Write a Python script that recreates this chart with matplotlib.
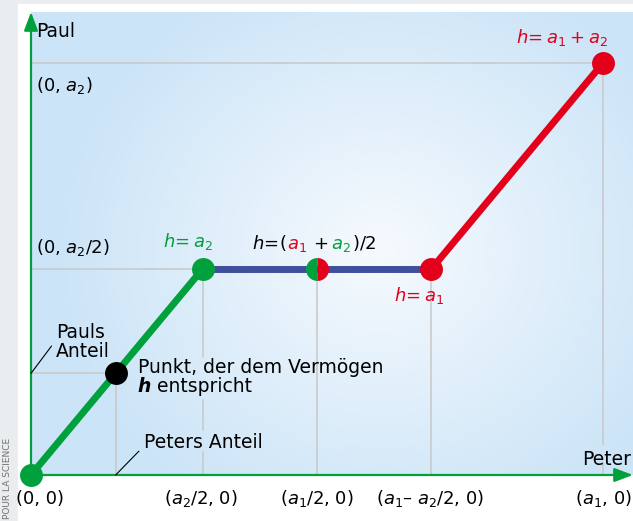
"""Division of an estate h between Peter (claim a1) and Paul (claim a2)."""
import numpy as np
import matplotlib.pyplot as plt
from matplotlib.patches import Rectangle

plt.rcParams['font.family'] = 'DejaVu Sans'
plt.rcParams['mathtext.fontset'] = 'dejavusans'

# claims of Peter (x axis) and Paul (y axis)
a1 = 5.0
a2 = 3.0
h_point = 1.48  # estate of the black example point (h < a2)

# breakpoints of the division path as h goes from 0 to a1 + a2
path_x = [0, a2 / 2, a1 / 2, a1 - a2 / 2, a1]
path_y = [0, a2 / 2, a2 / 2, a2 / 2, a2]

tick_x = [0, a2 / 2, a1 / 2, a1 - a2 / 2, a1]
tick_labels = ['(0, 0)', '($a_2$/2, 0)', '($a_1$/2, 0)',
               '($a_1$– $a_2$/2, 0)', '($a_1$, 0)']
tick_dx = [9, -2, 0, -1, 0]

GREEN = '#00a03c'
RED = '#e2001a'
BLUE = '#3f4f9b'
GRID = '#c8c8c8'
FS = 13.5   # plain text
FM = 13     # labels with formulas
W, H = 633, 521


def bg_color(px, py):
    """Radial blue-to-white background, in figure pixels."""
    edge = np.array([203, 228, 247]) / 255
    centre = np.array([246, 250, 254]) / 255
    d = np.clip(np.hypot((np.asarray(px) - 380) / 330,
                         (np.asarray(py) - 250) / 300), 0, 1)
    return centre + (edge - centre) * d[..., None]


fig = plt.figure(figsize=(W / 100, H / 100), dpi=100, facecolor='#e9edf0')
fig.add_artist(Rectangle((18 / W, 0), 1, (H - 4) / H, transform=fig.transFigure,
                         color='white', zorder=0))

x0, y0, x1, y1 = 31, 12, 633, 475
ax = fig.add_axes([x0 / W, (H - y1) / H, (x1 - x0) / W, (y1 - y0) / H])
ax.set_axis_off()

gx, gy = np.meshgrid(np.arange(x0, x1), np.arange(y0, y1))
ax.imshow(bg_color(gx, gy), extent=[0, 1, 0, 1], transform=ax.transAxes,
          aspect='auto', zorder=0)

sx = (603 - x0) / a1
sy = (y1 - 63) / a2
ax.set_xlim(0, (x1 - x0) / sx)
ax.set_ylim(0, (y1 - y0) / sy)


def py2y(py):
    return (y1 - py) / sy


def vline(x, top, gaps=()):
    """Vertical helper line from 0 up to top, left open behind text (gaps in px)."""
    ys = [top]
    for g_top, g_bot in gaps:
        ys += [py2y(g_top), np.nan, py2y(g_bot)]
    ys.append(0)
    ax.plot([x] * len(ys), ys, color=GRID, lw=1.1, zorder=1)


# helper lines
grid = dict(color=GRID, lw=1.1, zorder=1)
ax.plot([0, a1], [a2, a2], **grid)
vline(a1, a2, [(444, 463)])
ax.plot([0, a2 / 2], [a2 / 2, a2 / 2], **grid)
vline(tick_x[1], a2 / 2, [(357, 400), (430, 452)])
vline(tick_x[2], a2 / 2)
vline(tick_x[3], a2 / 2)
hp = h_point / 2
ax.plot([0, hp], [hp, hp], **grid)
vline(hp, hp)

# axes with arrows
arrow = dict(arrowstyle='-|>,head_length=0.8,head_width=0.3', color=GREEN,
             lw=1.6, shrinkA=0, shrinkB=0, mutation_scale=14)
ax.annotate('', xy=(0, 1), xycoords=('data', 'axes fraction'), xytext=(0, 0),
            arrowprops=arrow, annotation_clip=False, zorder=2)
ax.annotate('', xy=(1, 0), xycoords=('axes fraction', 'data'), xytext=(0, 0),
            arrowprops=arrow, annotation_clip=False, zorder=2)

# division path
lw = 5
ax.plot(path_x[:2], path_y[:2], color=GREEN, lw=lw, solid_capstyle='butt', zorder=3)
ax.plot(path_x[1:4], path_y[1:4], color=BLUE, lw=lw, solid_capstyle='butt', zorder=3)
ax.plot(path_x[3:], path_y[3:], color=RED, lw=lw, solid_capstyle='butt', zorder=3)

ms = 16.5
mk = dict(marker='o', ms=ms, mew=0, clip_on=False, zorder=4, ls='none')
ax.plot(path_x[:2], path_y[:2], color=GREEN, **mk)
ax.plot(path_x[3:], path_y[3:], color=RED, **mk)
ax.plot(path_x[2], path_y[2], fillstyle='left', markerfacecolor=GREEN,
        markerfacecoloralt=RED, **mk)
ax.plot(hp, hp, color='black', **mk)


def multicolor(xy, offset, parts, ha='center', size=FS):
    texts = [ax.annotate(s, xy=xy, xytext=offset, textcoords='offset pixels',
                         color=c, fontsize=size, ha='left', va='baseline',
                         zorder=5, **kw)
             for s, c, kw in parts]
    r = fig.canvas.get_renderer()
    widths = [t.get_window_extent(r).width for t in texts]
    pos = -sum(widths) / 2 if ha == 'center' else 0
    for t, w in zip(texts, widths):
        t.xyann = (offset[0] + pos, offset[1])
        pos += w
    return texts


# labels of the path points
ax.annotate(r'$h\!= a_2$', xy=(path_x[1], path_y[1]), xytext=(-14, 27),
            textcoords='offset pixels', color=GREEN, fontsize=FM,
            ha='center', va='center')
multicolor((path_x[2], path_y[2]), (-3, 20),
           [(r'$h\!=\!($', 'black', {}), ('$a_1$', RED, {}),
            (r'$\,+$', 'black', {}), (r'$\,a_2$', GREEN, {}),
            ('$)/2$', 'black', {})], size=FM)
ax.annotate(r'$h\!= a_1$', xy=(path_x[3], path_y[3]), xytext=(-12, -26),
            textcoords='offset pixels', color=RED, fontsize=FM,
            ha='center', va='center')
ax.annotate(r'$h\!= a_1 + a_2$', xy=(path_x[4], path_y[4]), xytext=(-41, 25),
            textcoords='offset pixels', color=RED, fontsize=FM,
            ha='center', va='center')

# example point and its shares
ax.annotate('Punkt, der dem Vermögen', xy=(hp, hp), xytext=(22, 0),
            textcoords='offset pixels', fontsize=FS, ha='left', va='baseline',
            zorder=5)
multicolor((hp, hp), (22, -19),
           [('h', 'black', dict(fontweight='bold', style='italic')),
            (' entspricht', 'black', {})], ha='left')
leader = dict(arrowstyle='-', color='black', lw=0.8, shrinkA=2, shrinkB=0)
ax.annotate('Pauls\nAnteil', xy=(0, hp), xytext=(25, 16),
            textcoords='offset pixels', fontsize=FS, ha='left', va='baseline',
            linespacing=1.05, annotation_clip=False,
            arrowprops=dict(relpos=(0, 0.55), **leader))
ax.annotate('Peters Anteil', xy=(hp, 0), xytext=(28, 27),
            textcoords='offset pixels', fontsize=FS, ha='left', va='baseline',
            zorder=5, arrowprops=dict(relpos=(0, 0.3), **leader))

# axis names and coordinates
fig.text(36 / W, 1 - 37 / H, 'Paul', fontsize=FS, ha='left', va='baseline')
fig.text(631 / W, 1 - 465 / H, 'Peter', fontsize=FS, ha='right',
         va='baseline', zorder=5)
ax.annotate('(0, $a_2$)', xy=(0, a2), xytext=(5, -28),
            textcoords='offset pixels', fontsize=FM, ha='left', va='baseline')
ax.annotate('(0, $a_2$/2)', xy=(0, a2 / 2), xytext=(5, 16),
            textcoords='offset pixels', fontsize=FM, ha='left', va='baseline')
for xv, lab, dx in zip(tick_x, tick_labels, tick_dx):
    ax.annotate(lab, xy=(xv, 0), xytext=(dx, -29), textcoords='offset pixels',
                fontsize=FM, ha='center', va='baseline', annotation_clip=False)

fig.text(8 / W, 2 / H, 'POUR LA SCIENCE', fontsize=6.5, color='#707070',
         rotation=90, ha='center', va='bottom')

fig.savefig('out.png', dpi=100, facecolor=fig.get_facecolor())
